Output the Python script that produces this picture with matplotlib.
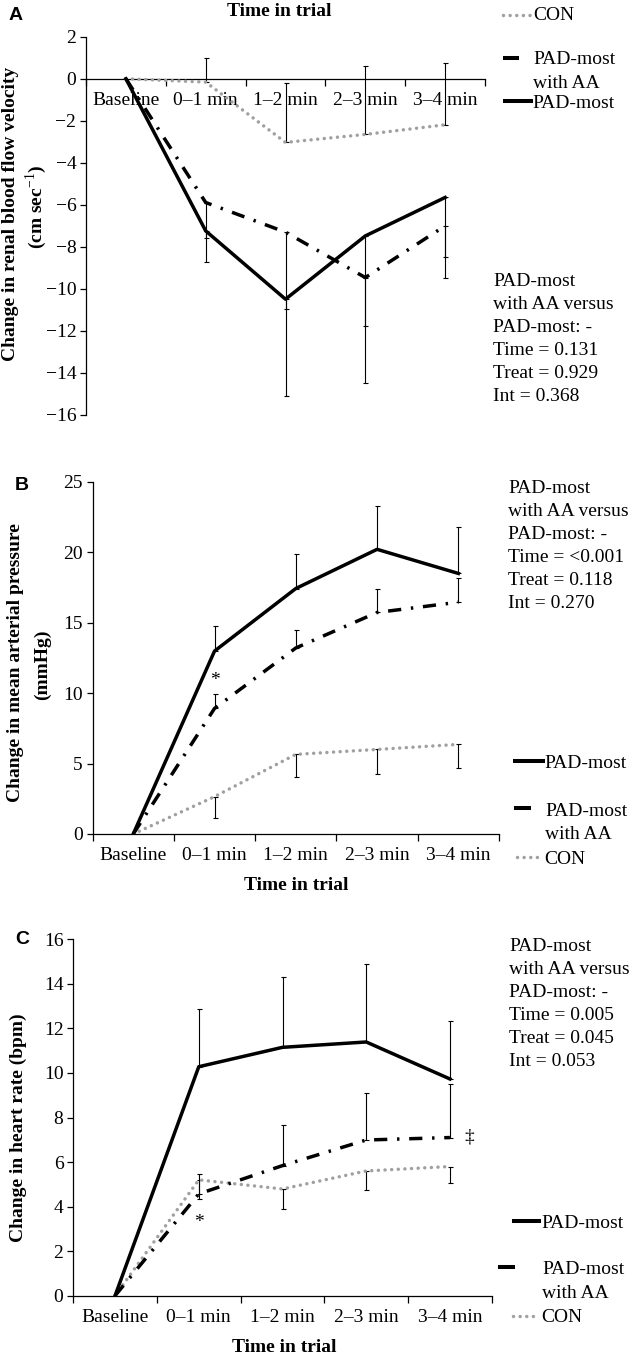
import numpy as np
import matplotlib
matplotlib.use("Agg")
import matplotlib.pyplot as plt
from matplotlib.lines import Line2D

plt.rcParams['font.family'] = ['Liberation Serif', 'DejaVu Serif']
plt.rcParams['mathtext.fontset'] = 'custom'
plt.rcParams['mathtext.rm'] = 'Liberation Serif'
plt.rcParams['mathtext.bf'] = 'Liberation Serif:bold'

categories = ["Baseline", "0–1 min", "1–2 min", "2–3 min", "3–4 min"]

# Panel A: renal blood flow velocity (errors: PAD downward, CON upward)
renal_pad = [0, -7.24, -10.49, -7.48, -5.65]
renal_pad_err = [0, 1.46, 4.60, 4.29, 2.85]
renal_aa = [0, -5.89, -7.30, -9.46, -7.00]
renal_aa_err = [0, 1.70, 3.67, 5.00, 2.46]
renal_con = [0, -0.16, -3.03, -2.65, -2.19]
renal_con_err = [0, 1.17, 2.83, 3.24, 2.94]

# Panel B: mean arterial pressure (errors: PAD upward, CON downward)
map_pad = [0, 12.98, 17.42, 20.20, 18.49]
map_pad_err = [0, 1.80, 2.44, 3.06, 3.31]
map_aa = [0, 8.91, 13.20, 15.72, 16.45]
map_aa_err = [0, 1.00, 1.27, 1.68, 1.75]
map_con = [0, 2.65, 5.65, 6.00, 6.36]
map_con_err = [0, 1.49, 1.63, 1.74, 1.70]

# Panel C: heart rate (errors: PAD upward, CON downward)
hr_pad = [0, 10.28, 11.15, 11.39, 9.73]
hr_pad_err = [0, 2.58, 3.15, 3.51, 2.62]
hr_aa = [0, 4.57, 5.84, 6.99, 7.10]
hr_aa_err = [0, 0.89, 1.82, 2.11, 2.40]
hr_con = [0, 5.20, 4.79, 5.60, 5.80]
hr_con_err = [0, 0.87, 0.91, 0.85, 0.73]

stats_a = ["PAD-most", "with AA versus", "PAD-most: -", "Time = 0.131", "Treat = 0.929", "Int = 0.368"]
stats_b = ["PAD-most", "with AA versus", "PAD-most: -", "Time = <0.001", "Treat = 0.118", "Int = 0.270"]
stats_c = ["PAD-most", "with AA versus", "PAD-most: -", "Time = 0.005", "Treat = 0.045", "Int = 0.053"]

W, H = 631, 1359
FS = 14
GRAY = '#a0a0a0'
LW = 2.5
AA_DASH = [3.8, 2.8, 0.7, 2.8]
CON_DASH = [0.01, 1.9]

fig = plt.figure(figsize=(W / 100, H / 100), dpi=100)


def rect(x0, yt, x1, yb):
    return [x0 / W, 1 - yb / H, (x1 - x0) / W, (yb - yt) / H]


def ft(x, y, s, **kw):
    kw.setdefault('fontsize', FS)
    fig.text(x / W, 1 - y / H, s, **kw)


def leg_line(x0, x1, y, **kw):
    fig.add_artist(Line2D([x0 / W, x1 / W], [1 - y / H, 1 - y / H],
                          transform=fig.transFigure, **kw))


def setup(ax, ylim, yticks):
    ax.set_xlim(0, 5)
    ax.set_ylim(*ylim)
    for s in ['top', 'right']:
        ax.spines[s].set_visible(False)
    for s in ['left', 'bottom']:
        ax.spines[s].set_linewidth(0.9)
    ax.spines['bottom'].set_position(('data', 0))
    ax.set_xticks(range(6))
    ax.set_xticklabels([])
    ax.set_xticks(np.arange(5) + 0.5, minor=True)
    ax.set_xticklabels(categories, minor=True)
    ax.tick_params(axis='x', which='major', direction='out', length=5, width=0.9)
    ax.tick_params(axis='x', which='minor', length=0, pad=9.5, labelsize=FS)
    ax.set_yticks(yticks)
    ax.tick_params(axis='y', direction='out', length=4, width=0.9, pad=3, labelsize=FS)
    ax.patch.set_visible(False)


def draw(ax, pad, pad_err, aa, aa_err, con, con_err, pad_down):
    xs = np.arange(5) + 0.5
    z = np.zeros(4)
    pe = np.array(pad_err[1:]); ae = np.array(aa_err[1:]); ce = np.array(con_err[1:])
    ekw = dict(fmt='none', ecolor='black', elinewidth=0.8, capsize=1.8, capthick=0.8, zorder=2)
    if pad_down:
        ax.errorbar(xs[1:], pad[1:], yerr=[pe, z], **ekw)
        ax.errorbar(xs[1:], aa[1:], yerr=[ae, z], **ekw)
        ax.errorbar(xs[1:], con[1:], yerr=[z, ce], **ekw)
    else:
        ax.errorbar(xs[1:], pad[1:], yerr=[z, pe], **ekw)
        ax.errorbar(xs[1:], aa[1:], yerr=[z, ae], **ekw)
        ax.errorbar(xs[1:], con[1:], yerr=[ce, z], **ekw)
    ax.plot(xs, con, color=GRAY, lw=LW, dashes=CON_DASH, dash_capstyle='round', zorder=3)
    ax.plot(xs, aa, color='black', lw=LW, dashes=AA_DASH, zorder=4)
    ax.plot(xs, pad, color='black', lw=LW, zorder=5)


# ---------------- Panel A ----------------
axA = fig.add_axes(rect(86, 36.7, 485, 415))
setup(axA, (-16, 2), np.arange(-16, 3, 2))
draw(axA, renal_pad, renal_pad_err, renal_aa, renal_aa_err, renal_con, renal_con_err, True)
ft(16, 15, "A", family=['Liberation Sans'], fontweight='bold', fontsize=14, ha='center', va='center')
ft(279, 12, "Time in trial", fontweight='bold', ha='center', va='center')
ft(11, 214, "Change in renal blood flow velocity", fontweight='bold', rotation=90, ha='center', va='center')
ft(36, 207, r"(cm sec$^{-1}$)", fontweight='bold', rotation=90, ha='center', va='center')
for i, s in enumerate(stats_a):
    ft(493, 281.7 + i * 23.0, s, ha='left', va='center')
leg_line(503, 531, 15, color=GRAY, lw=LW, dashes=CON_DASH, dash_capstyle='round')
ft(533, 16, "CON", ha='left', va='center')
leg_line(505, 517, 58, color='black', lw=LW + 0.4)
ft(533, 60, "PAD-most", ha='left', va='center')
ft(533, 83.3, "with AA", ha='left', va='center')
leg_line(505, 531, 101, color='black', lw=LW + 0.4)
ft(532, 103.7, "PAD-most", ha='left', va='center')

# ---------------- Panel B ----------------
axB = fig.add_axes(rect(92.6, 481.7, 499, 834))
setup(axB, (0, 25), np.arange(0, 26, 5))
draw(axB, map_pad, map_pad_err, map_aa, map_aa_err, map_con, map_con_err, False)
axB.text(1.5, 10.86, "*", ha='center', va='center', fontsize=FS)
ft(22, 485, "B", family=['Liberation Sans'], fontweight='bold', fontsize=14, ha='center', va='center')
ft(296, 885, "Time in trial", fontweight='bold', ha='center', va='center')
ft(16, 663, "Change in mean arterial pressure", fontweight='bold', rotation=90, ha='center', va='center')
ft(42, 665, "(mmHg)", fontweight='bold', rotation=90, ha='center', va='center')
for i, s in enumerate(stats_b):
    ft(508, 488.3 + i * 23.0, s, ha='left', va='center')
leg_line(515, 543, 761, color='black', lw=LW + 0.4)
ft(544, 763, "PAD-most", ha='left', va='center')
leg_line(516, 529, 808, color='black', lw=LW + 0.4)
ft(545, 811.7, "PAD-most", ha='left', va='center')
ft(545, 835, "with AA", ha='left', va='center')
leg_line(517, 543, 857, color=GRAY, lw=LW, dashes=CON_DASH, dash_capstyle='round')
ft(544, 859.3, "CON", ha='left', va='center')

# ---------------- Panel C ----------------
axC = fig.add_axes(rect(73.2, 939.3, 491.8, 1295.7))
setup(axC, (0, 16), np.arange(0, 17, 2))
draw(axC, hr_pad, hr_pad_err, hr_aa, hr_aa_err, hr_con, hr_con_err, False)
axC.text(1.5, 3.28, "*", ha='center', va='center', fontsize=FS)
axC.text(4.725, 7.14, "‡", ha='center', va='center', fontsize=FS)
ft(22, 939.3, "C", family=['Liberation Sans'], fontweight='bold', fontsize=14, ha='center', va='center')
ft(284, 1347, "Time in trial", fontweight='bold', ha='center', va='center')
ft(18, 1128, "Change in heart rate (bpm)", fontweight='bold', rotation=90, ha='center', va='center')
for i, s in enumerate(stats_c):
    ft(509, 946.7 + i * 23.0, s, ha='left', va='center')
leg_line(514, 539, 1220.7, color='black', lw=LW + 0.4)
ft(541, 1223.3, "PAD-most", ha='left', va='center')
leg_line(500, 513, 1266.7, color='black', lw=LW + 0.4)
ft(542, 1270, "PAD-most", ha='left', va='center')
ft(542, 1293.3, "with AA", ha='left', va='center')
leg_line(513, 539, 1316, color=GRAY, lw=LW, dashes=CON_DASH, dash_capstyle='round')
ft(541, 1317.3, "CON", ha='left', va='center')

fig.savefig("out.png", dpi=100)
